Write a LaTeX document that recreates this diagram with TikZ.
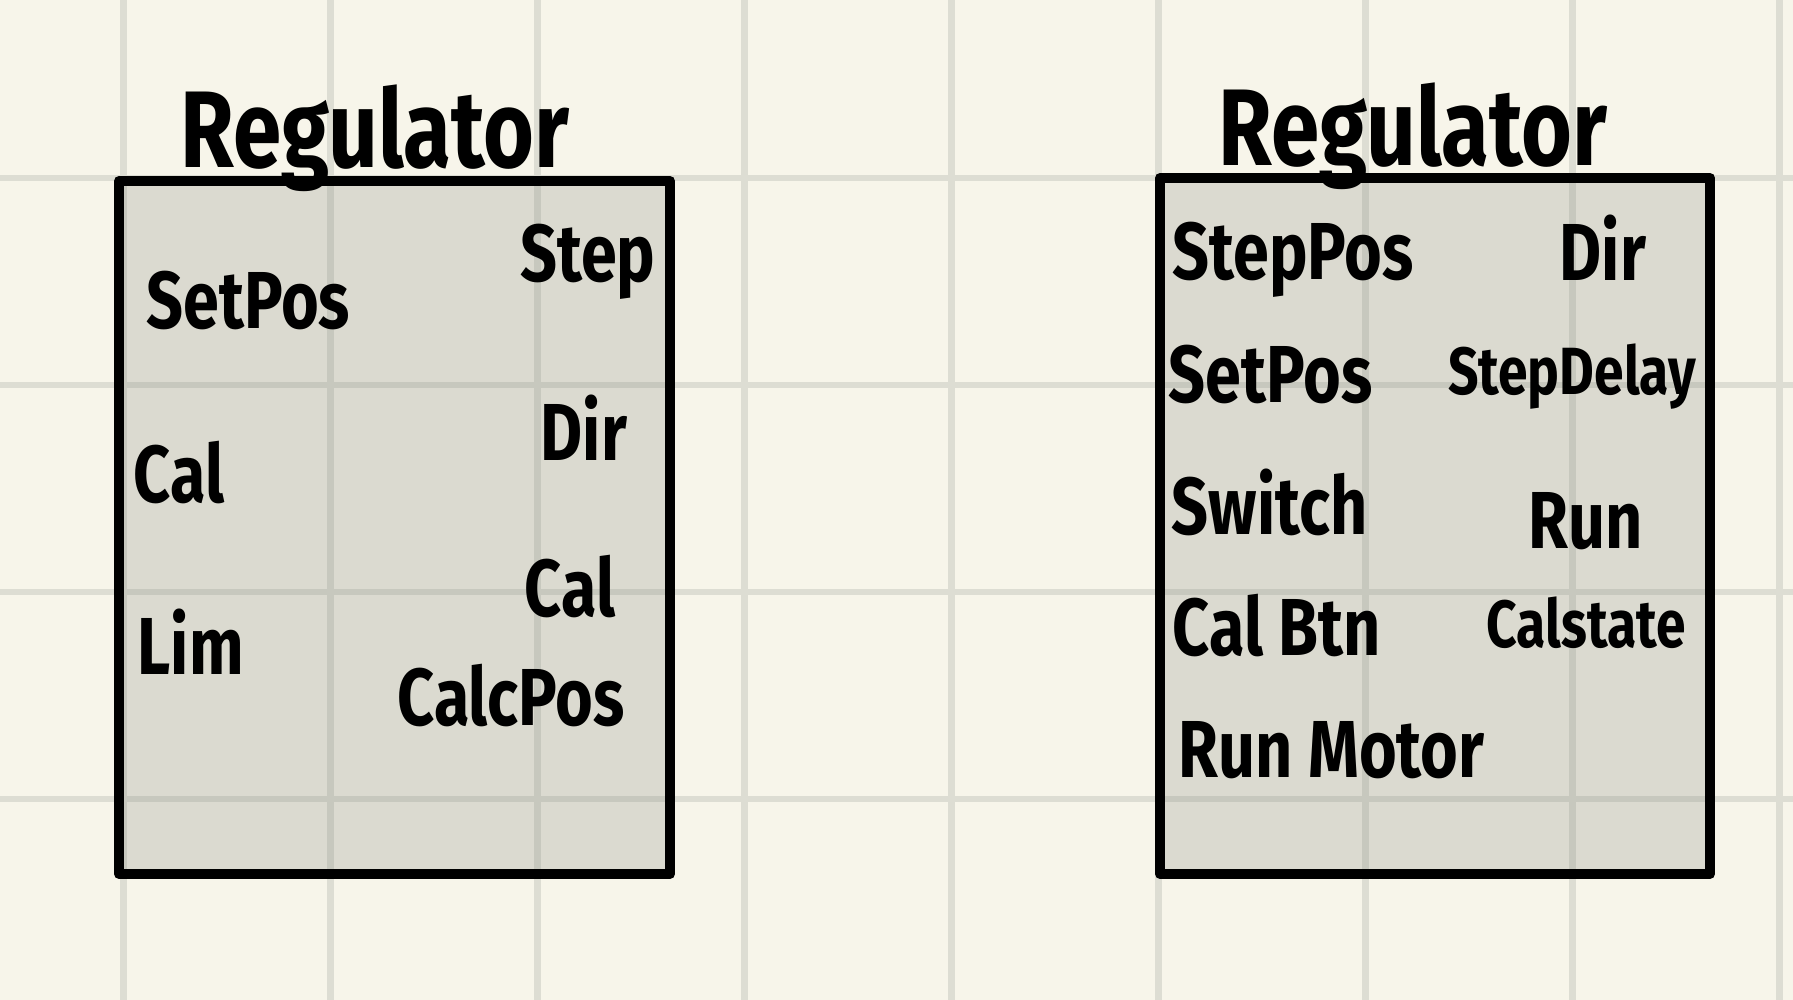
\documentclass[tikz,border=0pt]{standalone}
\usepackage{fontspec}
\setmainfont{Fira Sans}[FakeStretch=0.8]
\usepackage{tikz}
\usepackage{xcolor}

\definecolor{paper}{RGB}{247,245,234}
\definecolor{gridline}{RGB}{221,221,211}
\definecolor{boxtint}{RGB}{128,132,124}

\begin{document}
\begin{tikzpicture}[
    title/.style={font=\bfseries\fontsize{31}{36}\selectfont, inner sep=0pt, anchor=base},
    pinw/.style={font=\bfseries\fontsize{23}{28}\selectfont, inner sep=0pt, anchor=base west},
    pinc/.style={font=\bfseries\fontsize{23}{28}\selectfont, inner sep=0pt, anchor=base},
    pinsmall/.style={font=\bfseries\fontsize{19}{23}\selectfont, inner sep=0pt, anchor=base},
    block/.style={line width=0.1cm, line join=round, fill=boxtint, fill opacity=0.23}
  ]
  \useasboundingbox (0,0) rectangle (17.93,10);

  % Paper and grid
  \fill[paper] (0,0) rectangle (17.93,10);
  \foreach \x in {0,...,8}
    \draw[gridline, line width=0.065cm] ({1.235+2.07*\x},0) -- ++(0,10);
  \foreach \y in {0,...,3}
    \draw[gridline, line width=0.065cm] (0,{8.22-2.07*\y}) -- ++(17.93,0);

  % Left regulator
  \fill[block, draw=none] (1.19,1.26) rectangle (6.70,8.19);
  \node[title] (regA) at (3.75,8.32) {Regulator};
  \node[pinw] (setposA) at (1.46,6.71) {SetPos};
  \node[pinc] (stepA) at (5.88,7.18) {Step};
  \node[pinw] (calA) at (1.33,4.97) {Cal};
  \node[pinc] (dirA) at (5.84,5.39) {Dir};
  \node[pinw] (limA) at (1.37,3.25) {Lim};
  \node[pinc] (calB) at (5.70,3.83) {Cal};
  \node[pinc] (calcposA) at (5.11,2.74) {CalcPos};
  \draw[line width=0.1cm, line join=round] (1.19,1.26) rectangle (6.70,8.19);

  % Right regulator
  \fill[block, draw=none] (11.60,1.26) rectangle (17.10,8.22);
  \node[title] (regB) at (14.13,8.34) {Regulator};
  \node[pinw] (stepposB) at (11.72,7.20) {StepPos};
  \node[pinc] (dirB) at (16.03,7.19) {Dir};
  \node[pinw] (setposB) at (11.68,5.97) {SetPos};
  \node[pinsmall] (stepdelayB) at (15.72,6.05) {StepDelay};
  \node[pinw] (switchB) at (11.71,4.65) {Switch};
  \node[pinc] (runB) at (15.86,4.51) {Run};
  \node[pinw] (calbtnB) at (11.72,3.44) {Cal Btn};
  \node[pinsmall] (calstateB) at (15.86,3.52) {Calstate};
  \node[pinw] (runmotorB) at (11.78,2.22) {Run Motor};
  \draw[line width=0.1cm, line join=round] (11.60,1.26) rectangle (17.10,8.22);
\end{tikzpicture}
\end{document}
